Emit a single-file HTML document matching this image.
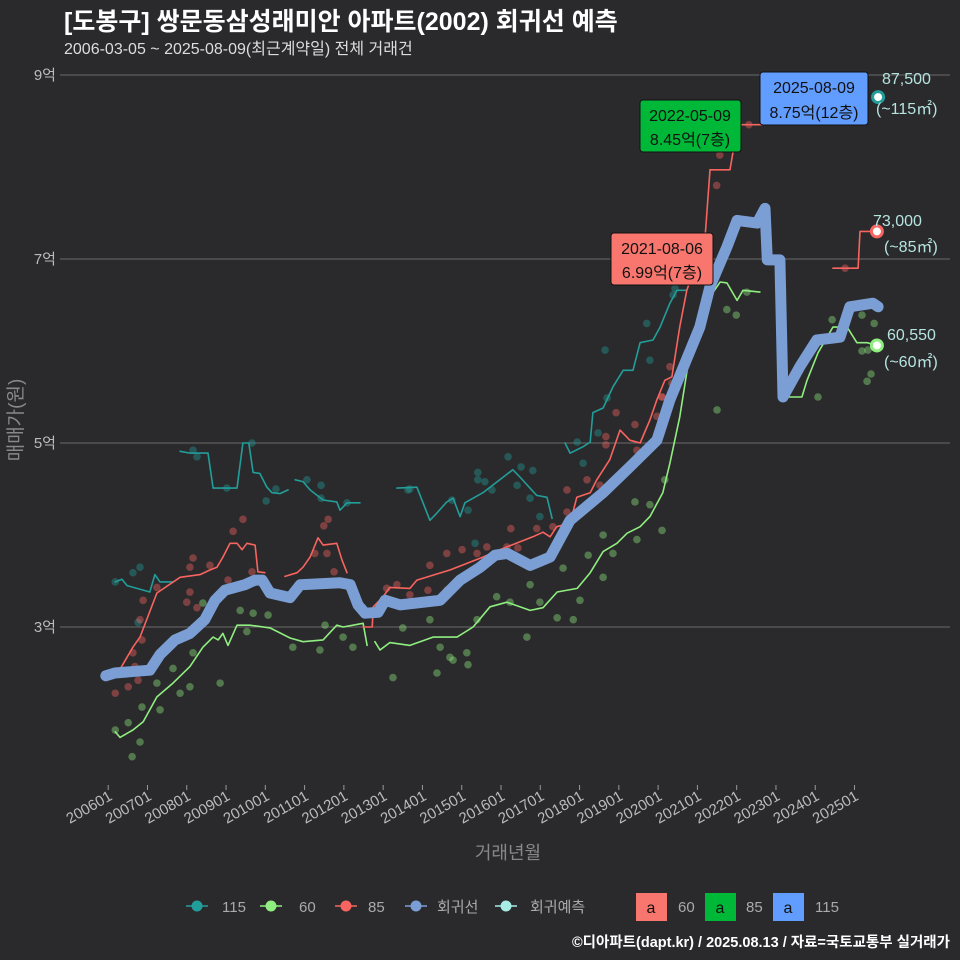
<!DOCTYPE html>
<html><head><meta charset="utf-8">
<style>
html,body{margin:0;padding:0;background:#2a2a2c;}
svg{display:block;font-family:"Liberation Sans","Noto Sans CJK KR",sans-serif;}
</style></head>
<body>
<svg id="chart" width="960" height="960" viewBox="0 0 960 960">
<rect x="0" y="0" width="960" height="960" fill="#2a2a2c"/>
<text x="64" y="30" fill="#ffffff" font-size="25" font-weight="bold">[도봉구] 쌍문동삼성래미안 아파트(2002) 회귀선 예측</text>
<text x="64" y="54" fill="#dddddd" font-size="16">2006-03-05 ~ 2025-08-09(최근계약일) 전체 거래건</text>
<g id="grid"></g>
<g id="yaxis"></g>
<g id="xaxis"></g>
<text x="0" y="0" transform="translate(22,420) rotate(-90)" text-anchor="middle" fill="#888888" font-size="19">매매가(원)</text>
<text x="508" y="859" text-anchor="middle" fill="#888888" font-size="18">거래년월</text>
<g id="points"></g>
<g id="lines"></g>
<g id="ends"></g>

<g>
<rect x="611" y="233" width="102" height="52" rx="3" fill="#f8766d" stroke="#111" stroke-width="1"/>
<text x="662" y="254" text-anchor="middle" font-size="16" fill="#111">2021-08-06</text>
<text x="662" y="278" text-anchor="middle" font-size="16" fill="#111">6.99억(7층)</text>
</g>
<g>
<rect x="640" y="100" width="101" height="52" rx="3" fill="#00b837" stroke="#111" stroke-width="1"/>
<text x="690" y="121" text-anchor="middle" font-size="16" fill="#111">2022-05-09</text>
<text x="690" y="145" text-anchor="middle" font-size="16" fill="#111">8.45억(7층)</text>
</g>
<g>
<rect x="760" y="72" width="108" height="53" rx="3" fill="#619cff" stroke="#111" stroke-width="1"/>
<text x="814" y="93" text-anchor="middle" font-size="16" fill="#111">2025-08-09</text>
<text x="814" y="118" text-anchor="middle" font-size="16" fill="#111">8.75억(12층)</text>
</g>
<g fill="#b4e4e0" font-size="16">
<text x="882" y="84">87,500</text>
<text x="876" y="114">(~115㎡)</text>
<text x="873" y="226">73,000</text>
<text x="884" y="252">(~85㎡)</text>
<text x="887" y="340">60,550</text>
<text x="884" y="367">(~60㎡)</text>
</g>

<g id="legend" font-size="15" fill="#aaaaaa">
<g><line x1="186" y1="906" x2="208" y2="906" stroke="#229e9a" stroke-width="1.5"/><circle cx="197" cy="906" r="5.5" fill="#229e9a"/><text x="222" y="912">115</text></g>
<g><line x1="260" y1="906" x2="282" y2="906" stroke="#90ee80" stroke-width="1.5"/><circle cx="271" cy="906" r="5.5" fill="#90ee80"/><text x="299" y="912">60</text></g>
<g><line x1="335" y1="906" x2="357" y2="906" stroke="#f8645f" stroke-width="1.5"/><circle cx="346" cy="906" r="5.5" fill="#f8645f"/><text x="368" y="912">85</text></g>
<g><line x1="405" y1="906" x2="427" y2="906" stroke="#7b9fd4" stroke-width="1.5"/><circle cx="416" cy="906" r="5.5" fill="#7b9fd4"/><text x="437" y="912">회귀선</text></g>
<g><line x1="495" y1="906" x2="517" y2="906" stroke="#a8ece6" stroke-width="1.5"/><circle cx="506" cy="906" r="5.5" fill="#a8ece6"/><text x="530" y="912">회귀예측</text></g>
<g><rect x="636" y="893" width="31" height="28" fill="#f8766d"/><text x="651" y="913" text-anchor="middle" fill="#111" font-size="16">a</text><text x="678" y="912">60</text></g>
<g><rect x="705" y="893" width="31" height="28" fill="#00b837"/><text x="720" y="913" text-anchor="middle" fill="#111" font-size="16">a</text><text x="746" y="912">85</text></g>
<g><rect x="773" y="893" width="31" height="28" fill="#619cff"/><text x="788" y="913" text-anchor="middle" fill="#111" font-size="16">a</text><text x="815" y="912">115</text></g>
</g>
<text x="950" y="947" text-anchor="end" fill="#ffffff" font-size="14.5" font-weight="bold">©디아파트(dapt.kr) / 2025.08.13 / 자료=국토교통부 실거래가</text>
</svg>
<script>
const yTicks = [3, 5, 7, 9];
const yTickLabels = ["3억", "5억", "7억", "9억"];
const xTickYears = [2006,2007,2008,2009,2010,2011,2012,2013,2014,2015,2016,2017,2018,2019,2020,2021,2022,2023,2024,2025];
const xTickLabels = ["200601","200701","200801","200901","201001","201101","201201","201301","201401","201501","201601","201701","201801","201901","202001","202101","202201","202301","202401","202501"];

// [decimal year, price in 억]
const regression = [[2005.94,2.47],[2006.17,2.50],[2007.06,2.53],[2007.32,2.70],[2007.70,2.86],[2008.08,2.93],[2008.46,3.08],[2008.72,3.29],[2008.97,3.40],[2009.48,3.46],[2009.74,3.51],[2009.92,3.51],[2010.12,3.37],[2010.63,3.32],[2010.89,3.46],[2011.90,3.48],[2012.16,3.46],[2012.36,3.24],[2012.54,3.15],[2012.87,3.16],[2013.05,3.29],[2013.43,3.24],[2014.45,3.29],[2014.96,3.51],[2015.47,3.65],[2015.85,3.78],[2016.16,3.80],[2016.74,3.67],[2017.25,3.76],[2017.76,4.16],[2018.60,4.46],[2019.28,4.74],[2019.97,5.03],[2020.30,5.47],[2021.06,6.26],[2021.32,6.70],[2021.75,7.13],[2022.01,7.42],[2022.52,7.39],[2022.72,7.55],[2022.78,6.99],[2023.10,6.99],[2023.18,5.50],[2023.61,5.83],[2024.04,6.12],[2024.63,6.15],[2024.88,6.48],[2025.47,6.52],[2025.60,6.48]];

const line85 = [[2006.22,2.48],[2006.63,2.78],[2006.81,2.89],[2007.24,3.37],[2007.83,3.54],[2008.34,3.57],[2008.59,3.62],[2008.77,3.65],[2008.92,3.76],[2009.10,3.91],[2009.28,3.91],[2009.41,3.84],[2009.53,3.91],[2009.74,3.89],[2009.81,3.60],[2009.99,3.59],null,
[2010.50,3.55],[2010.81,3.59],[2010.96,3.65],[2011.14,3.76],[2011.34,3.97],[2011.47,3.89],[2011.82,3.91],[2011.95,3.73],[2012.08,3.59],null,
[2012.49,3.00],[2012.72,3.00],[2012.75,3.22],[2013.00,3.33],[2013.17,3.43],[2013.68,3.42],[2013.86,3.51],[2014.70,3.62],[2015.54,3.76],[2015.97,3.84],[2016.81,3.98],[2017.07,4.03],[2017.25,3.98],[2017.42,4.09],[2017.76,4.13],[2017.93,4.41],[2018.27,4.46],[2018.44,4.60],[2018.77,4.82],[2019.03,5.14],[2019.28,5.03],[2019.54,5.00],[2019.79,5.25],[2019.97,5.47],[2020.17,5.68],[2020.35,5.72],[2020.55,6.26],[2020.73,6.66],[2021.19,7.21],[2021.32,7.97],[2021.83,7.97],[2021.90,8.15],[2022.01,8.46],[2022.67,8.46],null,
[2024.45,6.90],[2025.09,6.90],[2025.14,7.30],[2025.57,7.30]];

const line60 = [[2006.18,1.86],[2006.30,1.80],[2006.63,1.88],[2006.89,1.97],[2007.24,2.24],[2007.65,2.39],[2008.08,2.57],[2008.41,2.78],[2008.67,2.89],[2008.80,2.86],[2008.92,2.93],[2009.05,2.80],[2009.28,3.02],[2009.61,3.02],[2010.12,2.99],[2010.63,2.88],[2010.96,2.84],[2011.47,2.86],[2011.82,3.02],[2011.98,3.00],[2012.49,3.04],[2012.59,2.80],null,
[2012.79,2.84],[2012.92,2.75],[2013.17,2.83],[2013.68,2.80],[2014.27,2.89],[2014.88,2.89],[2015.29,3.00],[2015.72,3.22],[2016.15,3.27],[2016.74,3.18],[2017.07,3.21],[2017.43,3.38],[2017.94,3.42],[2018.27,3.59],[2018.60,3.82],[2018.95,3.91],[2019.21,4.02],[2019.54,4.09],[2019.79,4.20],[2020.12,4.46],[2020.30,4.78],[2020.55,5.28],[2020.89,6.20],[2021.07,6.26],[2021.32,6.59],[2021.58,6.75],[2021.75,6.74],[2022.01,6.55],[2022.16,6.66],[2022.59,6.64],null,
[2023.28,5.50],[2023.66,5.50],[2023.79,5.68],[2024.07,5.98],[2024.45,6.26],[2024.81,6.26],[2025.06,6.09],[2025.32,6.09],[2025.57,6.06]];

const line115 = [[2006.18,3.49],[2006.35,3.52],[2006.48,3.45],[2007.06,3.38],[2007.19,3.57],[2007.32,3.49],[2007.65,3.49],null,
[2007.83,4.91],[2008.08,4.89],[2008.54,4.89],[2008.67,4.51],[2009.28,4.51],[2009.43,5.00],[2009.58,5.00],[2009.69,4.68],[2009.86,4.67],[2010.04,4.52],[2010.17,4.46],[2010.37,4.45],[2010.58,4.49],null,
[2010.76,4.60],[2010.96,4.58],[2011.14,4.49],[2011.47,4.38],[2011.82,4.36],[2011.90,4.27],[2012.08,4.35],[2012.41,4.35],null,
[2013.35,4.51],[2013.86,4.52],[2014.19,4.16],[2014.37,4.24],[2014.62,4.36],[2014.78,4.40],[2014.96,4.20],[2015.08,4.35],[2015.54,4.46],[2015.97,4.60],[2016.30,4.71],[2016.48,4.63],[2016.91,4.43],[2017.17,4.41],[2017.30,4.18],null,
[2017.63,5.00],[2017.76,4.89],[2018.09,4.96],[2018.27,5.01],[2018.34,5.33],[2018.60,5.38],[2018.85,5.61],[2019.11,5.79],[2019.36,5.79],[2019.54,6.09],[2019.87,6.12],[2020.05,6.26],[2020.30,6.52],[2020.48,6.66],[2020.73,6.66]];

const pts60 = [[2006.18,1.88],[2006.51,1.96],[2006.61,1.59],[2006.81,1.75],[2006.86,2.13],[2007.32,2.10],[2007.24,2.39],[2007.65,2.55],[2007.83,2.28],[2008.08,2.35],[2008.16,2.72],[2008.41,3.26],[2008.85,2.39],[2009.36,3.18],[2009.69,3.15],[2010.07,3.13],[2009.53,2.95],[2010.70,2.78],[2011.39,2.75],[2011.52,3.02],[2011.98,2.89],[2012.23,2.78],[2013.25,2.45],[2013.50,2.99],[2014.19,3.08],[2014.45,2.78],[2014.70,2.67],[2014.78,2.64],[2015.13,2.72],[2015.16,2.59],[2014.37,2.50],[2015.39,3.08],[2015.89,3.33],[2016.23,3.27],[2016.74,3.46],[2016.66,2.89],[2016.99,3.27],[2017.43,3.10],[2017.58,3.64],[2017.84,3.08],[2018.01,3.29],[2018.22,3.78],[2018.60,4.00],[2018.85,3.80],[2018.60,3.54],[2019.41,4.36],[2019.46,3.95],[2019.79,4.33],[2020.10,4.05],[2020.17,4.60],[2021.99,6.39],[2021.75,6.45],[2022.26,6.64],[2021.50,5.36],[2024.07,5.50],[2024.43,6.34],[2025.19,6.39],[2025.50,6.30],[2025.19,6.00],[2025.34,6.01],[2025.42,5.75],[2025.32,5.67]];
const pts85 = [[2009.43,4.17],[2009.18,4.04],[2011.49,4.10],[2011.60,4.17],[2008.16,3.75],[2008.08,3.65],[2006.89,3.29],[2006.81,3.08],[2006.86,2.86],[2006.63,2.72],[2006.68,2.57],[2006.51,2.35],[2006.18,2.28],[2006.76,2.42],[2008.00,3.27],[2008.26,3.21],[2008.59,3.67],[2008.08,3.38],[2007.24,3.43],[2011.26,3.80],[2011.57,3.80],[2011.75,3.60],[2009.66,3.60],[2009.05,3.51],[2013.09,3.42],[2013.35,3.46],[2013.68,3.35],[2014.19,3.67],[2014.14,3.40],[2014.62,3.40],[2015.01,3.84],[2014.62,3.80],[2015.39,3.80],[2015.64,3.87],[2016.15,3.87],[2016.43,3.86],[2016.25,4.07],[2016.91,4.07],[2017.32,4.09],[2017.68,4.49],[2017.68,4.25],[2018.19,4.60],[2018.52,4.54],[2018.67,5.07],[2018.67,4.98],[2018.93,5.33],[2019.41,5.20],[2019.46,4.92],[2019.97,5.29],[2020.10,5.50],[2021.49,7.80],[2021.57,8.13],[2022.31,8.46],[2024.76,6.90],[2020.35,5.65],[2020.30,5.83],[2020.10,5.50]];
const pts115 = [[2006.18,3.49],[2006.63,3.59],[2006.81,3.65],[2006.76,3.05],[2008.16,4.92],[2008.26,4.85],[2009.02,4.51],[2009.66,5.00],[2010.02,4.37],[2010.27,4.50],[2011.06,4.60],[2011.42,4.54],[2011.42,4.40],[2012.08,4.35],[2013.63,4.49],[2013.68,4.50],[2014.75,4.38],[2015.16,4.27],[2015.41,4.68],[2015.41,4.60],[2015.59,4.58],[2016.18,4.85],[2016.51,4.74],[2016.81,4.70],[2015.77,4.49],[2016.41,4.54],[2016.74,4.40],[2016.99,4.20],[2015.34,3.91],[2017.94,5.01],[2018.09,4.78],[2018.47,5.11],[2018.70,5.49],[2018.65,6.01],[2019.79,5.90],[2019.71,6.30],[2020.38,6.61],[2020.43,6.68]];
const lastPoint115 = [2025.60, 8.76];
const lastPoint85 = [2025.57, 7.30];
const lastPoint60 = [2025.57, 6.06];

const NS = "http://www.w3.org/2000/svg";
function xs(yr){ return 108.2 + (yr - 2006) * 39.28; }
function ys(v){ return 627 - (v - 3) * 92; }

const grid = document.getElementById('grid');
const yaxis = document.getElementById('yaxis');
yTicks.forEach((t,i)=>{
  const l = document.createElementNS(NS,'line');
  l.setAttribute('x1',60); l.setAttribute('x2',950);
  l.setAttribute('y1',ys(t)); l.setAttribute('y2',ys(t));
  l.setAttribute('stroke','#6a6a6a'); l.setAttribute('stroke-width','1');
  
  
  grid.appendChild(l);
  const tx = document.createElementNS(NS,'text');
  tx.setAttribute('x',56); tx.setAttribute('y',ys(t)+5);
  tx.setAttribute('text-anchor','end'); tx.setAttribute('fill','#bbbbbb'); tx.setAttribute('font-size','15');
  tx.textContent = yTickLabels[i];
  
  
  yaxis.appendChild(tx);
});
const xaxis = document.getElementById('xaxis');
xTickYears.forEach((yr,i)=>{
  const x = xs(yr);
  const l = document.createElementNS(NS,'line');
  l.setAttribute('x1',x); l.setAttribute('x2',x); l.setAttribute('y1',785); l.setAttribute('y2',790);
  l.setAttribute('stroke','#999'); l.setAttribute('stroke-width','1');
  
  
  xaxis.appendChild(l);
  const tx = document.createElementNS(NS,'text');
  tx.setAttribute('transform','translate('+(x+5)+',799) rotate(-30)');
  tx.setAttribute('text-anchor','end'); tx.setAttribute('fill','#bbbbbb'); tx.setAttribute('font-size','15');
  tx.textContent = xTickLabels[i];
  
  
  xaxis.appendChild(tx);
});

const pg = document.getElementById('points');
function drawPts(arr, color, name){
  arr.forEach(p=>{
    const c = document.createElementNS(NS,'circle');
    c.setAttribute('cx',xs(p[0])); c.setAttribute('cy',ys(p[1])); c.setAttribute('r',3.8);
    c.setAttribute('fill',color); c.setAttribute('fill-opacity','0.4');
    
    
    pg.appendChild(c);
  });
}
drawPts(pts115,'#229e9a','point-115');
drawPts(pts85,'#f8645f','point-85');
drawPts(pts60,'#90ee80','point-60');

const lg = document.getElementById('lines');
function pathFrom(arr){
  let d=''; let pen=false;
  arr.forEach(p=>{
    if(!p){pen=false;return;}
    d += (pen?'L':'M') + xs(p[0]).toFixed(1)+','+ys(p[1]).toFixed(1)+' ';
    pen=true;
  });
  return d;
}
function drawLine(arr,color,w,name){
  const p = document.createElementNS(NS,'path');
  p.setAttribute('d',pathFrom(arr)); p.setAttribute('fill','none');
  p.setAttribute('stroke',color); p.setAttribute('stroke-width',w);
  p.setAttribute('stroke-linejoin','round'); p.setAttribute('stroke-linecap','round');
  
  
  lg.appendChild(p);
}
drawLine(line115,'#229e9a',1.6,'line-115');
drawLine(line60,'#90ee80',1.6,'line-60');
drawLine(line85,'#f8645f',1.6,'line-85');
drawLine(regression,'#7b9fd4',11,'regression-line');

const eg = document.getElementById('ends');
function endPt(p,color,name){
  const c = document.createElementNS(NS,'circle');
  c.setAttribute('cx',xs(p[0])); c.setAttribute('cy',ys(p[1])); c.setAttribute('r',5.5);
  c.setAttribute('fill','#ffffff'); c.setAttribute('stroke',color); c.setAttribute('stroke-width','3');
  
  
  eg.appendChild(c);
}
endPt(lastPoint115,'#229e9a','end-point-115');
endPt(lastPoint85,'#f8645f','end-point-85');
endPt(lastPoint60,'#90ee80','end-point-60');
</script>
</body></html>
